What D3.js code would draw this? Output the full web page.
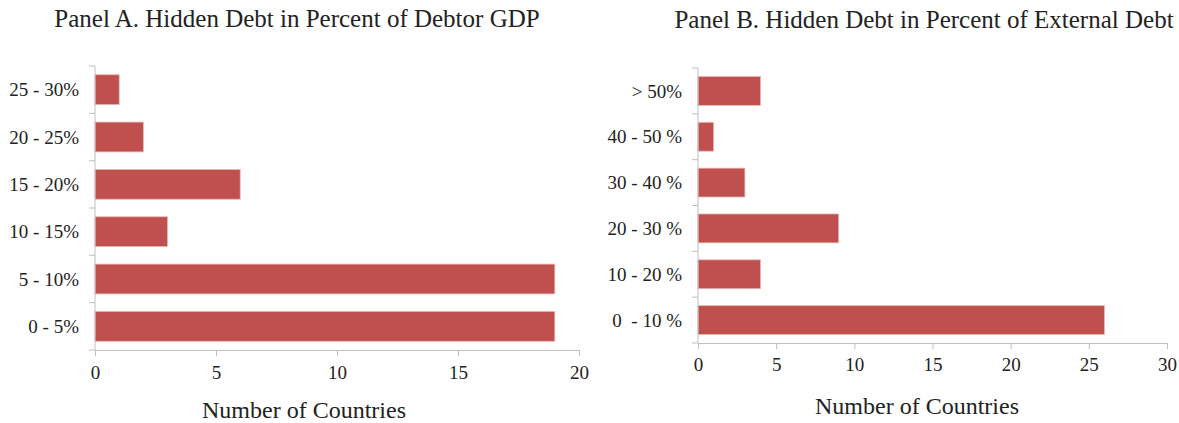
<!DOCTYPE html>
<html>
<head>
<meta charset="utf-8">
<script src="https://cdn.jsdelivr.net/npm/d3@7"></script>
<style>
  body { margin: 0; background: #fff; }
  svg text { font-family: "Liberation Serif", "Times New Roman", serif; fill: #222; }
</style>
</head>
<body>
<div id="chart"></div>
<script>
// Panel A data
var catsA = ["0 - 5%", "5 - 10%", "10 - 15%", "15 - 20%", "20 - 25%", "25 - 30%"];
var valsA = [19, 19, 3, 6, 2, 1];
var ticksA = [0, 5, 10, 15, 20];

// Panel B data
var catsB = ["0  - 10 %", "10 - 20 %", "20 - 30 %", "30 - 40 %", "40 - 50 %", "> 50%"];
var valsB = [26, 4, 9, 3, 1, 4];
var ticksB = [0, 5, 10, 15, 20, 25, 30];

var serif = "Liberation Serif, Times New Roman, serif";

var svg = d3.select("#chart").append("svg")
  .attr("width", 1179)
  .attr("height", 423);

function drawPanel(opts) {
  var g = svg.append("g");

  var x = d3.scaleLinear()
    .domain([0, d3.max(opts.ticks)])
    .range([opts.left, opts.right]);

  var y = d3.scaleBand()
    .domain(opts.cats)
    .range([opts.bottom, opts.top])
    .paddingInner(0.37)
    .paddingOuter(0.185);

  // bars
  g.selectAll("rect.bar")
    .data(opts.vals)
    .enter().append("rect")
    .attr("class", "bar")
    .attr("x", x(0))
    .attr("y", (d, i) => y(opts.cats[i]))
    .attr("width", d => x(d) - x(0))
    .attr("height", y.bandwidth())
    .attr("fill", "#c0504d")
    .attr("stroke", "#e9b8b7")
    .attr("stroke-width", 0.8);

  // y axis line + ticks at band edges
  g.append("line")
    .attr("x1", x(0)).attr("x2", x(0))
    .attr("y1", opts.top).attr("y2", opts.bottom)
    .attr("stroke", "#bfbfbf");

  var edges = d3.range(opts.cats.length + 1).map(i => opts.bottom - i * (opts.bottom - opts.top) / opts.cats.length);
  g.selectAll("line.ytick")
    .data(edges)
    .enter().append("line")
    .attr("x1", x(0) - 6).attr("x2", x(0))
    .attr("y1", d => d).attr("y2", d => d)
    .attr("stroke", "#bfbfbf");

  g.selectAll("text.ylab")
    .data(opts.cats)
    .enter().append("text")
    .attr("x", x(0) - 16)
    .attr("y", d => y(d) + y.bandwidth() / 2)
    .attr("dy", "0.35em")
    .attr("text-anchor", "end")
    .attr("font-family", serif)
    .attr("font-size", 19)
    .style("white-space", "pre")
    .text(d => d);

  // x axis
  var xAxis = d3.axisBottom(x).tickValues(opts.ticks).tickSize(6).tickPadding(opts.tickPad);
  var ax = g.append("g")
    .attr("transform", "translate(0," + opts.bottom + ")")
    .call(xAxis)
    .attr("font-family", serif);
  ax.select(".domain").attr("stroke", "#bfbfbf");
  ax.selectAll(".tick line").attr("stroke", "#bfbfbf");
  ax.selectAll(".tick text")
    .attr("font-size", 19)
    .attr("fill", "#222");

  // titles
  g.append("text")
    .attr("x", opts.titleX)
    .attr("y", opts.titleY)
    .attr("text-anchor", "middle")
    .attr("font-family", serif)
    .attr("font-size", 25)
    .text(opts.title);

  g.append("text")
    .attr("x", opts.axisTitleX)
    .attr("y", opts.axisTitleY)
    .attr("text-anchor", "middle")
    .attr("font-family", serif)
    .attr("font-size", 24)
    .text("Number of Countries");
}

drawPanel({
  cats: catsA, vals: valsA, ticks: ticksA,
  left: 95, right: 579, top: 66, bottom: 350, tickPad: 10,
  title: "Panel A. Hidden Debt in Percent of Debtor GDP",
  titleX: 297, titleY: 27,
  axisTitleX: 304, axisTitleY: 418
});

drawPanel({
  cats: catsB, vals: valsB, ticks: ticksB,
  left: 698, right: 1167, top: 68, bottom: 343, tickPad: 9,
  title: "Panel B. Hidden Debt in Percent of External Debt",
  titleX: 924, titleY: 28,
  axisTitleX: 917, axisTitleY: 414
});
</script>
</body>
</html>
